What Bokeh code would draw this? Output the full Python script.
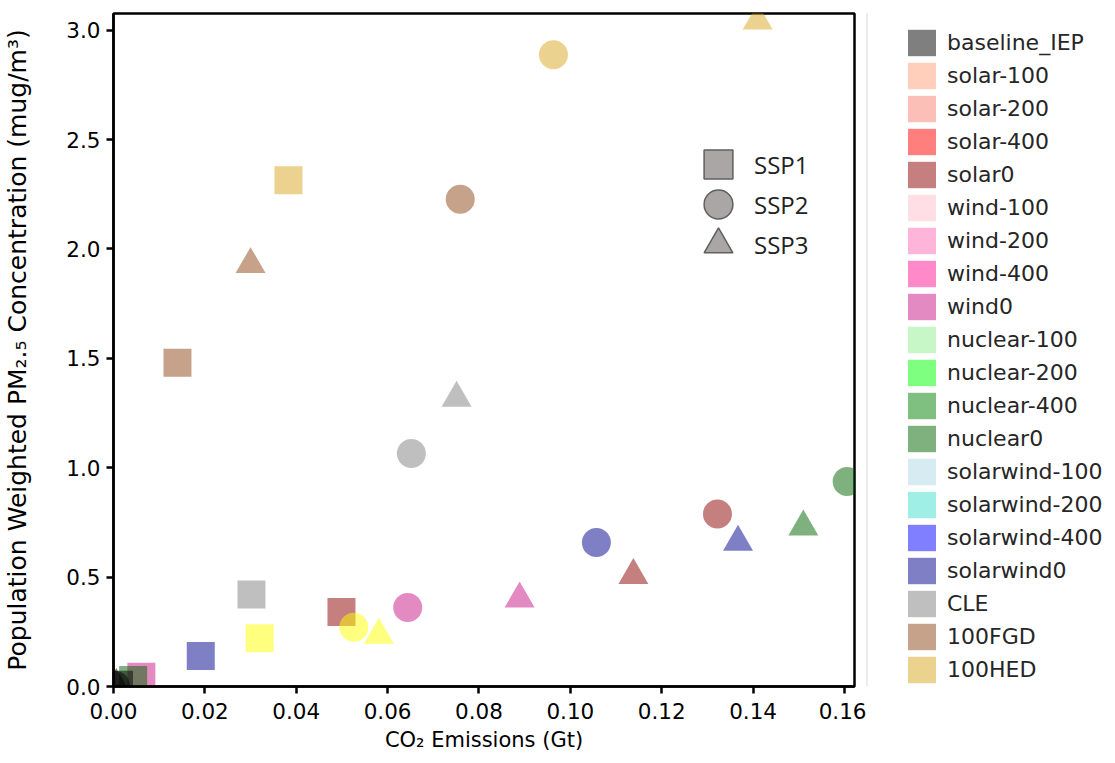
from bokeh.plotting import figure
from bokeh.layouts import row
from bokeh.models import Legend, LegendItem, FixedTicker, NumeralTickFormatter, ColumnDataSource
from bokeh.embed import file_html
from bokeh.resources import INLINE

NAN = float("nan")

# ---------------- data ----------------
scenarios = ["baseline_IEP", "solar-100", "solar-200", "solar-400", "solar0",
             "wind-100", "wind-200", "wind-400", "wind0",
             "nuclear-100", "nuclear-200", "nuclear-400", "nuclear0",
             "solarwind-100", "solarwind-200", "solarwind-400", "solarwind0",
             "CLE", "100FGD", "100HED"]
scenario_colors = ["black", "lightsalmon", "salmon", "red", "darkred",
                   "pink", "hotpink", "deeppink", "mediumvioletred",
                   "lightgreen", "lime", "green", "darkgreen",
                   "lightblue", "turquoise", "blue", "darkblue",
                   "gray", "saddlebrown", "goldenrod"]
# series shown in yellow that has no entry in the legend
extra_name = "unlisted"
extra_color = "yellow"

ssp_names = ["SSP1", "SSP2", "SSP3"]
ssp_markers = ["square", "circle", "triangle"]
ssp_sizes = [28, 29, 30]

# SSP1 points (squares)
ssp1_scen = ["wind0", "nuclear0", "baseline_IEP", "solarwind0", "CLE", "unlisted", "solar0", "100FGD", "100HED"]
ssp1_x = [0.0061, 0.0043, 0.0012, 0.0191, 0.0302, 0.0320, 0.0499, 0.0140, 0.0383]
ssp1_y = [0.044, 0.030, 0.008, 0.139, 0.421, 0.221, 0.340, 1.480, 2.314]

# SSP2 points (circles)
ssp2_scen = ["baseline_IEP", "wind0", "CLE", "100FGD", "100HED", "solarwind0", "solar0", "nuclear0", "unlisted"]
ssp2_x = [0.0004, 0.0644, 0.0652, 0.0759, 0.0963, 0.1057, 0.1322, 0.1606, 0.0526]
ssp2_y = [0.004, 0.361, 1.065, 2.227, 2.888, 0.658, 0.788, 0.937, 0.271]

# SSP3 points (triangles)
ssp3_scen = ["baseline_IEP", "100FGD", "CLE", "100HED", "wind0", "solar0", "solarwind0", "nuclear0", "unlisted"]
ssp3_x = [0.0006, 0.0300, 0.0751, 0.1410, 0.0889, 0.1138, 0.1367, 0.1510, 0.0581]
ssp3_y = [0.005, 1.929, 1.318, 3.042, 0.401, 0.508, 0.660, 0.730, 0.235]

x_ticks = [0.0, 0.02, 0.04, 0.06, 0.08, 0.10, 0.12, 0.14, 0.16]
y_ticks = [0.0, 0.5, 1.0, 1.5, 2.0, 2.5, 3.0]

x_label = "CO\u2082 Emissions (Gt)"
y_label = "Population Weighted PM\u2082.\u2085 Concentration (mug/m\u00b3)"

# ---------------- main figure ----------------
color_of = dict(zip(scenarios, scenario_colors))
color_of[extra_name] = extra_color

p = figure(width=866, height=763, x_range=(0, 0.1622), y_range=(0, 3.076),
           output_backend="svg", toolbar_location=None,
           min_border_left=113, min_border_right=12, min_border_top=13, min_border_bottom=77)
p.xgrid.visible = False
p.ygrid.visible = False
p.background_fill_color = "white"
p.border_fill_color = "white"
p.outline_line_color = "black"
p.outline_line_width = 2.5
p.outline_line_alpha = 1.0

for ax in (p.xaxis[0], p.yaxis[0]):
    ax.axis_line_color = "black"
    ax.axis_line_width = 2.5
    ax.major_tick_line_color = "black"
    ax.major_tick_line_width = 2.5
    ax.major_tick_out = 7
    ax.major_tick_in = 0
    ax.minor_tick_line_color = None
    ax.major_label_text_font = "DejaVu Sans"
    ax.major_label_text_font_size = "21.5px"
    ax.major_label_text_color = "black"
    ax.axis_label_text_font = "DejaVu Sans"
    ax.axis_label_text_font_style = "normal"
    ax.axis_label_text_color = "black"

p.xaxis.major_label_standoff = 9
p.yaxis.major_label_standoff = 6
p.xaxis.axis_label_text_font_size = "21px"
p.yaxis.axis_label_text_font_size = "25px"
p.xaxis.ticker = FixedTicker(ticks=x_ticks)
p.yaxis.ticker = FixedTicker(ticks=y_ticks)
p.xaxis.formatter = NumeralTickFormatter(format="0.00")
p.yaxis.formatter = NumeralTickFormatter(format="0.0")
p.xaxis.axis_label = x_label
p.yaxis.axis_label = y_label
p.xaxis.axis_label_standoff = 6
p.yaxis.axis_label_standoff = 31

groups = [(ssp1_scen, ssp1_x, ssp1_y), (ssp2_scen, ssp2_x, ssp2_y), (ssp3_scen, ssp3_x, ssp3_y)]
for (scen, xs, ys), marker, size in zip(groups, ssp_markers, ssp_sizes):
    src = ColumnDataSource(dict(x=xs, y=ys, c=[color_of[s] for s in scen]))
    p.scatter("x", "y", source=src, marker=marker, size=size,
              fill_color="c", fill_alpha=0.5, line_color=None)

# SSP marker key (one small legend per marker shape)
ssp_legend_bottoms = [486, 446, 406]
for name, marker, yb in zip(ssp_names, ssp_markers, ssp_legend_bottoms):
    r = p.scatter(x=[NAN], y=[NAN], marker=marker, size=29, fill_color="#aba6a6",
                  line_color="#5f5f5f", line_width=1.5)
    lg = Legend(items=[LegendItem(label=name, renderers=[r])], location=(569, yb),
                glyph_width=72, glyph_height=72, spacing=0, padding=0, margin=0,
                label_standoff=0,
                label_text_font="Open Sans", label_text_font_size="24px",
                label_text_color="#222222", border_line_alpha=0, background_fill_alpha=0)
    p.add_layout(lg)

# ---------------- legend panel ----------------
q = figure(width=249, height=763, output_backend="svg", toolbar_location=None,
           x_axis_location=None, y_axis_location=None,
           min_border_left=0, min_border_right=0, min_border_top=0, min_border_bottom=0)
q.outline_line_color = None
q.background_fill_color = "white"
q.border_fill_color = "white"
q.xgrid.visible = False
q.ygrid.visible = False

items = []
for name, col in zip(scenarios, scenario_colors):
    r = q.quad(left=[NAN], right=[NAN], top=[NAN], bottom=[NAN],
               fill_color=col, fill_alpha=0.5, line_color=None)
    items.append(LegendItem(label=name, renderers=[r]))
leg = Legend(items=items, location=(0, -37.5), glyph_width=35, glyph_height=33,
             spacing=0, padding=36, margin=0, label_standoff=8,
             label_text_font="DejaVu Sans", label_text_font_size="22px",
             label_text_color="#262626", border_line_color="#d9d9d9", border_line_width=2,
             background_fill_color="white", background_fill_alpha=1.0)
q.add_layout(leg)

layout = row(p, q, spacing=0)
open("out.html", "w").write(file_html(layout, INLINE))
